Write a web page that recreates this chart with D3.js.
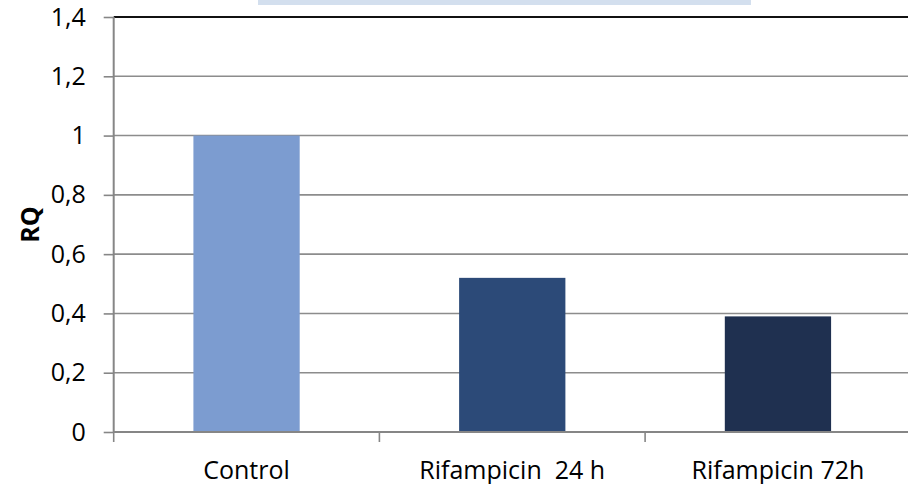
<!DOCTYPE html>
<html>
<head>
<meta charset="utf-8">
<script src="https://cdn.jsdelivr.net/npm/d3@7"></script>
<style>
  html, body { margin: 0; padding: 0; background: #fff; }
  svg { display: block; }
  text { font-family: "Open Sans", "Noto Sans", sans-serif; fill: #000; }
</style>
</head>
<body>
<svg id="chart" width="908" height="484"></svg>
<script>
// Relative quantification per treatment
const categories = ["Control", "Rifampicin  24 h", "Rifampicin 72h"];
const rqValues = [1.0, 0.52, 0.39];
const barColors = ["#7c9cd0", "#2c4a78", "#1f3050"];
const yTicks = [0, 0.2, 0.4, 0.6, 0.8, 1.0, 1.2, 1.4];
const yTickLabels = ["0", "0,2", "0,4", "0,6", "0,8", "1", "1,2", "1,4"];
const yTitle = "RQ";

const svg = d3.select("#chart");
const plotLeft = 113.7, plotTop = 17, plotBottom = 432;
const slot = 265.7;
const fontSize = 25;

const y = d3.scaleLinear().domain([0, 1.4]).range([plotBottom, plotTop]);
const x = d3.scaleBand().domain(categories)
  .range([plotLeft, plotLeft + slot * categories.length]).padding(0);
const barW = x.step() * 0.4;

// clipped title box at the top
svg.append("rect").attr("x", 258).attr("y", 0).attr("width", 493).attr("height", 5)
  .attr("fill", "#d3dfee");

// horizontal gridlines
svg.append("g").selectAll("line").data(yTicks.filter(t => t > 0)).join("line")
  .attr("x1", plotLeft).attr("x2", 908)
  .attr("y1", d => y(d)).attr("y2", d => y(d))
  .attr("stroke", d => d === 1.4 ? "#111" : "#8c8c8c")
  .attr("stroke-width", d => d === 1.4 ? 2.2 : 1.6);

// bars
svg.append("g").selectAll("rect").data(categories).join("rect")
  .attr("x", d => x(d) + (x.step() - barW) / 2)
  .attr("width", barW)
  .attr("y", (d, i) => y(rqValues[i]))
  .attr("height", (d, i) => y(0) - y(rqValues[i]))
  .attr("fill", (d, i) => barColors[i]);

// y axis
const yAxis = d3.axisLeft(y).tickValues(yTicks)
  .tickFormat((d, i) => yTickLabels[i]).tickSize(10).tickPadding(18);
const gy = svg.append("g").attr("transform", `translate(${plotLeft},0)`).call(yAxis);
gy.select(".domain").attr("stroke", "#868686").attr("stroke-width", 2).attr("d", `M0,${plotTop}V${plotBottom}`);
gy.selectAll(".tick line").attr("stroke", "#868686").attr("stroke-width", 1.6);
gy.selectAll(".tick text").attr("font-size", fontSize).attr("font-family", "'Open Sans', sans-serif").attr("fill", "#000");

// x axis baseline and slot ticks
svg.append("line").attr("x1", plotLeft).attr("x2", 908).attr("y1", plotBottom).attr("y2", plotBottom)
  .attr("stroke", "#868686").attr("stroke-width", 2);
svg.append("g").selectAll("line").data(categories).join("line")
  .attr("x1", d => x(d)).attr("x2", d => x(d))
  .attr("y1", plotBottom).attr("y2", plotBottom + 10)
  .attr("stroke", "#868686").attr("stroke-width", 1.6);

// category labels
svg.append("g").selectAll("text").data(categories).join("text")
  .attr("x", d => x(d) + x.step() / 2).attr("y", 479)
  .attr("text-anchor", "middle").attr("font-size", fontSize)
  .style("white-space", "pre")
  .text(d => d);

// y title
svg.append("text")
  .attr("transform", `translate(39,${(plotTop + plotBottom) / 2}) rotate(-90)`)
  .attr("text-anchor", "middle").attr("font-size", fontSize).attr("font-weight", "bold")
  .text(yTitle);
</script>
</body>
</html>
